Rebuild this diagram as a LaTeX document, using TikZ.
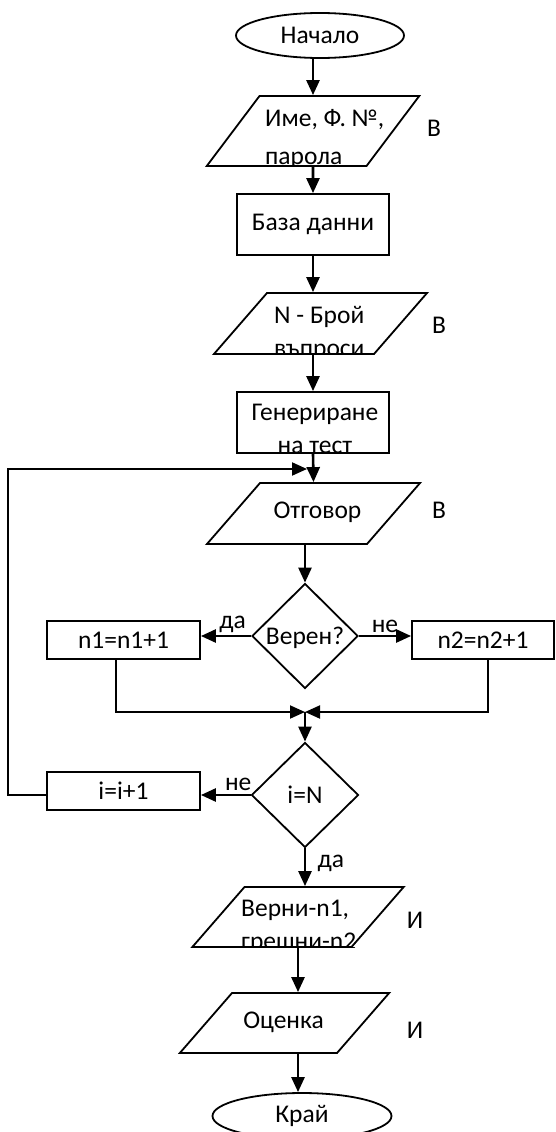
\documentclass[tikz,border=0pt]{standalone}
\usepackage{fontspec}
\setmainfont{Carlito}
\usetikzlibrary{positioning,shapes.geometric,arrows.meta}

\begin{document}
\begin{tikzpicture}[x=1pt,y=-1pt,
    every node/.style={font=\fontsize{25.5}{33}\selectfont},
    arr/.style={line width=2.6pt,-{Triangle[length=15pt,width=13pt]}},
    thinarr/.style={line width=2pt,-{Triangle[length=15pt,width=13pt]}},
    block/.style={draw,line width=1.8pt,rectangle,inner sep=0pt,minimum width=152pt,minimum height=61pt},
    term/.style={draw,line width=1.8pt,ellipse,inner sep=0pt,minimum width=168pt,minimum height=45pt},
    io/.style={draw,line width=1.8pt,trapezium,trapezium left angle=49,trapezium right angle=131,
      inner sep=0pt,text width=107pt,text height=31pt,text depth=30pt},
    cond/.style={draw,line width=1.8pt,diamond,inner sep=0pt,text depth=0pt,minimum width=106pt,minimum height=105pt},
    txt/.style={inner sep=0pt,anchor=base}]
    \useasboundingbox (0,0) rectangle (556,1132);

    % main column
    \node [term] (start) at (320,35.5) {Начало};
    \node [io,text height=35pt,text depth=35pt,trapezium left angle=53,trapezium right angle=127] (in1) at (313,131) {};
    \node [block] (db) at (313,224.5) {База данни};
    \node [io] (nq) at (320.5,323.5) {};
    \node [block] (gen) at (313,422.5) {};
    \node [io] (ans) at (313.5,513.5) {};
    \node [cond] (q1) at (305,636) {Верен?};
    \node [block,minimum width=153pt,minimum height=38pt] (n1) at (123.5,640) {n1=n1+1};
    \node [block,minimum width=142pt,minimum height=38pt] (n2) at (483,640) {n2=n2+1};
    \node [cond,minimum width=107pt] (q2) at (305,795) {i=N};
    \node [block,minimum width=153pt,minimum height=38pt] (inc) at (123.5,791) {i=i+1};
    \node [io,text height=30pt,text depth=30pt] (out1) at (298,917) {};
    \node [io,text height=30pt,text depth=30pt,text width=105pt] (mark) at (284.5,1023) {};
    \node [term,minimum width=179pt,minimum height=46pt] (stop) at (302,1116) {Край};

    \node [txt] (tans) at (317.5,518) {Отговор};
    \node [txt] (tmark) at (283.5,1028) {Оценка};

    % two-line texts, cut off by the lower edge
    \begin{scope}
      \clip ([xshift=-300pt]in1.south) rectangle ([xshift=300pt,yshift=300pt]in1.south);
      \node [txt,anchor=base west,align=left] (tin1) at (265,164) {Име, Ф. №,\\[5pt]парола};
    \end{scope}
    \begin{scope}
      \clip ([xshift=-300pt]nq.south) rectangle ([xshift=300pt,yshift=300pt]nq.south);
      \node [txt,anchor=base west,align=left] (tnq) at (274,356) {N - Брой\\въпроси};
    \end{scope}
    \begin{scope}
      \clip ([xshift=-300pt]gen.south) rectangle ([xshift=300pt,yshift=300pt]gen.south);
      \node [txt,align=center] (tgen) at (315,453) {Генериране\\на тест};
    \end{scope}
    \begin{scope}
      \clip ([xshift=-300pt]out1.south) rectangle ([xshift=300pt,yshift=300pt]out1.south);
      \node [txt,anchor=base west,align=left] (tout1) at (241,949) {Верни-n1,\\грешни-n2};
    \end{scope}

    % input / output marks
    \foreach \n/\x/\y/\t in {m1/434/128/В,m2/439/325/В,m3/439/510/В,m4/415/920/И,m5/415/1030/И}
      \node (\n) at (\x,\y) {\t};

    \coordinate (lp) at (307,469);
    \coordinate (mrg) at (305,712);

    \draw [arr] (in1.north |- start.south) -- (in1.north);
    \draw [arr] (in1.south) -- (db.north);
    \draw [arr] (db.south) -- (db.south |- nq.north);
    \draw [arr] (db.south |- nq.south) -- (gen.north);
    \draw [arr] (gen.south) -- (ans.north);
    \draw [thinarr] (q2.west -| inc.west) -- ++(-38,0) |- (lp);
    \draw [arr] (q1.north |- ans.south) -- (q1.north);
    \draw [arr] (q1.west) -- (q1.west -| n1.east) node [pos=0.37,above=-1pt] (y1) {да};
    \draw [arr] (q1.east) -- (q1.east -| n2.west) node [pos=0.5,above=-1pt] (no1) {не};
    \draw [thinarr] ([xshift=-7.5pt]n1.south) |- (mrg);
    \draw [thinarr] ([xshift=5pt]n2.south) |- (mrg);
    \draw [arr] (mrg) -- (q2.north);
    \draw [arr] (q2.west) -- (q2.west -| inc.east) node [pos=0.25,above=0pt] (no2) {не};
    \draw [arr] (q2.south) -- (q2.south |- out1.north) node [pos=0.4,right=8pt] (y2) {да};
    \draw [arr] (out1.south) -- (out1.south |- mark.north);
    \draw [arr] (out1.south |- mark.south) -- (stop.north -| out1.south);
\end{tikzpicture}
\end{document}
